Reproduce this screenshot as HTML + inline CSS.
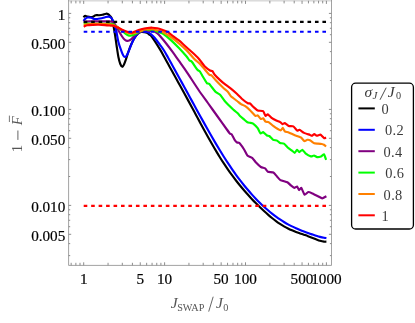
<!DOCTYPE html>
<html><head><meta charset="utf-8"><title>plot</title><style>html,body{margin:0;padding:0;background:#fff;}body{width:415px;height:323px;overflow:hidden;position:relative;font-family:"Liberation Serif",serif;}</style></head><body>
<svg width="415" height="323" viewBox="0 0 415 323" style="position:absolute;left:0;top:0;will-change:transform">
<rect x="0" y="0" width="415" height="323" fill="#ffffff"/>
<rect x="68.20" y="0" width="263.70" height="1.55" fill="#dbdbdb"/>
<path d="M71.17 265.40 v-2.60 M71.17 0.80 v2.60 M75.86 265.40 v-2.60 M75.86 0.80 v2.60 M80.00 265.40 v-2.60 M80.00 0.80 v2.60 M83.70 265.40 v-3.10 M83.70 0.80 v3.10 M108.05 265.40 v-2.60 M108.05 0.80 v2.60 M122.30 265.40 v-2.60 M122.30 0.80 v2.60 M132.41 265.40 v-2.60 M132.41 0.80 v2.60 M140.25 265.40 v-3.10 M140.25 0.80 v3.10 M146.65 265.40 v-2.60 M146.65 0.80 v2.60 M152.07 265.40 v-2.60 M152.07 0.80 v2.60 M156.76 265.40 v-2.60 M156.76 0.80 v2.60 M160.90 265.40 v-2.60 M160.90 0.80 v2.60 M164.60 265.40 v-3.10 M164.60 0.80 v3.10 M188.95 265.40 v-2.60 M188.95 0.80 v2.60 M203.20 265.40 v-2.60 M203.20 0.80 v2.60 M213.31 265.40 v-2.60 M213.31 0.80 v2.60 M221.15 265.40 v-3.10 M221.15 0.80 v3.10 M227.55 265.40 v-2.60 M227.55 0.80 v2.60 M232.97 265.40 v-2.60 M232.97 0.80 v2.60 M237.66 265.40 v-2.60 M237.66 0.80 v2.60 M241.80 265.40 v-2.60 M241.80 0.80 v2.60 M245.50 265.40 v-3.10 M245.50 0.80 v3.10 M269.85 265.40 v-2.60 M269.85 0.80 v2.60 M284.10 265.40 v-2.60 M284.10 0.80 v2.60 M294.21 265.40 v-2.60 M294.21 0.80 v2.60 M302.05 265.40 v-3.10 M302.05 0.80 v3.10 M308.45 265.40 v-2.60 M308.45 0.80 v2.60 M313.87 265.40 v-2.60 M313.87 0.80 v2.60 M318.56 265.40 v-2.60 M318.56 0.80 v2.60 M322.70 265.40 v-2.60 M322.70 0.80 v2.60 M326.40 265.40 v-3.10 M326.40 0.80 v3.10 M68.60 255.60 h1.60 M331.50 255.60 h-1.60 M68.60 243.60 h1.60 M331.50 243.60 h-1.60 M68.60 234.30 h2.60 M331.50 234.30 h-2.60 M68.60 226.70 h1.60 M331.50 226.70 h-1.60 M68.60 220.27 h1.60 M331.50 220.27 h-1.60 M68.60 214.70 h1.60 M331.50 214.70 h-1.60 M68.60 209.79 h1.60 M331.50 209.79 h-1.60 M68.60 205.40 h2.60 M331.50 205.40 h-2.60 M68.60 176.50 h1.60 M331.50 176.50 h-1.60 M68.60 159.60 h1.60 M331.50 159.60 h-1.60 M68.60 147.60 h1.60 M331.50 147.60 h-1.60 M68.60 138.30 h2.60 M331.50 138.30 h-2.60 M68.60 130.70 h1.60 M331.50 130.70 h-1.60 M68.60 124.27 h1.60 M331.50 124.27 h-1.60 M68.60 118.70 h1.60 M331.50 118.70 h-1.60 M68.60 113.79 h1.60 M331.50 113.79 h-1.60 M68.60 109.40 h2.60 M331.50 109.40 h-2.60 M68.60 80.50 h1.60 M331.50 80.50 h-1.60 M68.60 63.60 h1.60 M331.50 63.60 h-1.60 M68.60 51.60 h1.60 M331.50 51.60 h-1.60 M68.60 42.30 h2.60 M331.50 42.30 h-2.60 M68.60 34.70 h1.60 M331.50 34.70 h-1.60 M68.60 28.27 h1.60 M331.50 28.27 h-1.60 M68.60 22.70 h1.60 M331.50 22.70 h-1.60 M68.60 17.79 h1.60 M331.50 17.79 h-1.60 M68.60 13.40 h2.60 M331.50 13.40 h-2.60" stroke="#787878" stroke-width="0.85" fill="none"/>
<path d="M68.60 0.00 V265.40 H331.50 V0.00" fill="none" stroke="#8a8a8a" stroke-width="0.8"/>
<path d="M83.40 17.30 C83.53 17.17 83.90 16.75 84.20 16.50 C84.50 16.25 84.65 15.78 85.20 15.80 C85.75 15.82 86.62 16.40 87.50 16.60 C88.38 16.80 89.58 16.98 90.50 17.00 C91.42 17.02 92.15 17.00 93.00 16.70 C93.85 16.40 94.58 15.45 95.60 15.20 C96.62 14.95 97.95 15.27 99.10 15.20 C100.25 15.13 101.35 15.05 102.50 14.80 C103.65 14.55 105.05 13.80 106.00 13.70 C106.95 13.60 107.55 13.85 108.20 14.20 C108.85 14.55 109.25 14.95 109.90 15.80 C110.55 16.65 111.30 16.47 112.10 19.30 C112.90 22.13 113.97 28.52 114.70 32.80 C115.43 37.08 115.88 40.97 116.50 45.00 C117.12 49.03 117.77 53.83 118.40 57.00 C119.03 60.17 119.65 62.37 120.30 64.00 C120.95 65.63 121.68 66.72 122.30 66.80 C122.92 66.88 123.38 65.77 124.00 64.50 C124.62 63.23 125.25 61.37 126.00 59.20 C126.75 57.03 127.60 54.03 128.50 51.50 C129.40 48.97 130.40 46.25 131.40 44.00 C132.40 41.75 133.42 39.70 134.50 38.00 C135.58 36.30 136.82 34.80 137.90 33.80 C138.98 32.80 139.92 32.28 141.00 32.00 C142.08 31.72 143.40 31.95 144.40 32.10 C145.40 32.25 146.10 32.42 147.00 32.90 C147.90 33.38 148.98 34.33 149.80 35.00 C150.62 35.67 150.20 34.50 151.90 36.90 C153.60 39.30 157.98 46.12 160.00 49.40 C162.02 52.67 162.67 54.14 164.00 56.54 C165.33 58.94 166.67 61.39 168.00 63.81 C169.33 66.23 170.67 68.66 172.00 71.08 C173.33 73.50 174.67 75.91 176.00 78.32 C177.33 80.73 178.67 83.14 180.00 85.55 C181.33 87.97 182.67 90.39 184.00 92.82 C185.33 95.25 186.67 97.69 188.00 100.14 C189.33 102.60 190.67 105.06 192.00 107.53 C193.33 109.99 194.67 112.48 196.00 114.95 C197.33 117.42 198.67 119.91 200.00 122.37 C201.33 124.84 202.67 127.31 204.00 129.74 C205.33 132.18 206.67 134.61 208.00 137.00 C209.33 139.38 210.67 141.75 212.00 144.07 C213.33 146.39 214.67 148.67 216.00 150.90 C217.33 153.14 218.67 155.33 220.00 157.46 C221.33 159.59 222.67 161.68 224.00 163.71 C225.33 165.73 226.67 167.71 228.00 169.63 C229.33 171.55 230.67 173.41 232.00 175.23 C233.33 177.04 234.67 178.80 236.00 180.52 C237.33 182.23 238.67 183.90 240.00 185.53 C241.33 187.15 242.67 188.73 244.00 190.28 C245.33 191.83 246.67 193.34 248.00 194.81 C249.33 196.29 250.67 197.73 252.00 199.15 C253.33 200.56 254.67 201.94 256.00 203.30 C257.33 204.65 258.67 205.97 260.00 207.27 C261.33 208.56 262.67 209.82 264.00 211.05 C265.33 212.28 266.67 213.48 268.00 214.63 C269.33 215.79 270.67 216.91 272.00 217.98 C273.33 219.05 274.67 220.08 276.00 221.06 C277.33 222.04 278.67 222.97 280.00 223.85 C281.33 224.72 282.67 225.55 284.00 226.32 C285.33 227.09 286.67 227.80 288.00 228.47 C289.33 229.14 290.67 229.75 292.00 230.33 C293.33 230.91 294.67 231.44 296.00 231.95 C297.33 232.46 298.67 232.93 300.00 233.40 C301.33 233.87 302.67 234.31 304.00 234.78 C305.33 235.24 306.67 235.69 308.00 236.18 C309.33 236.66 310.67 237.16 312.00 237.67 C313.33 238.18 314.67 238.72 316.00 239.23 C317.33 239.73 318.67 240.29 320.00 240.69 C321.33 241.10 322.93 241.48 324.00 241.64 C325.07 241.80 326.00 241.64 326.40 241.64" stroke="#000000" stroke-width="2.15" fill="none" stroke-linejoin="round" stroke-linecap="butt"/>
<path d="M83.50 21.00 C83.78 20.63 84.48 19.38 85.20 18.80 C85.92 18.22 86.78 17.67 87.80 17.50 C88.82 17.33 90.15 17.53 91.30 17.80 C92.45 18.07 93.55 18.93 94.70 19.10 C95.85 19.27 97.03 18.95 98.20 18.80 C99.37 18.65 100.53 18.47 101.70 18.20 C102.87 17.93 104.05 17.47 105.20 17.20 C106.35 16.93 107.67 16.55 108.60 16.60 C109.53 16.65 110.15 16.98 110.80 17.50 C111.45 18.02 111.97 18.72 112.50 19.70 C113.03 20.68 113.43 21.85 114.00 23.40 C114.57 24.95 115.17 25.92 115.90 29.00 C116.63 32.08 117.45 38.13 118.40 41.90 C119.35 45.67 120.78 49.33 121.60 51.60 C122.42 53.87 122.75 54.60 123.30 55.50 C123.85 56.40 124.37 56.95 124.90 57.00 C125.43 57.05 125.97 56.52 126.50 55.80 C127.03 55.08 127.43 54.25 128.10 52.70 C128.77 51.15 129.60 48.67 130.50 46.50 C131.40 44.33 132.50 41.62 133.50 39.70 C134.50 37.78 135.42 36.27 136.50 35.00 C137.58 33.73 138.80 32.72 140.00 32.10 C141.20 31.48 142.47 31.32 143.70 31.30 C144.93 31.28 146.17 31.50 147.40 32.00 C148.63 32.50 149.87 33.30 151.10 34.30 C152.33 35.30 153.35 36.28 154.80 38.00 C156.25 39.72 158.27 42.51 159.80 44.60 C161.33 46.69 162.63 48.39 164.00 50.54 C165.37 52.69 166.67 55.14 168.00 57.49 C169.33 59.85 170.67 62.26 172.00 64.67 C173.33 67.07 174.67 69.50 176.00 71.93 C177.33 74.35 178.67 76.79 180.00 79.22 C181.33 81.65 182.67 84.08 184.00 86.51 C185.33 88.95 186.67 91.38 188.00 93.81 C189.33 96.24 190.67 98.68 192.00 101.11 C193.33 103.54 194.67 105.97 196.00 108.40 C197.33 110.82 198.67 113.25 200.00 115.66 C201.33 118.08 202.67 120.49 204.00 122.88 C205.33 125.27 206.67 127.66 208.00 130.02 C209.33 132.38 210.67 134.72 212.00 137.03 C213.33 139.35 214.67 141.64 216.00 143.90 C217.33 146.15 218.67 148.38 220.00 150.56 C221.33 152.75 222.67 154.90 224.00 157.01 C225.33 159.11 226.67 161.18 228.00 163.20 C229.33 165.22 230.67 167.20 232.00 169.13 C233.33 171.06 234.67 172.94 236.00 174.78 C237.33 176.61 238.67 178.40 240.00 180.15 C241.33 181.89 242.67 183.58 244.00 185.23 C245.33 186.88 246.67 188.49 248.00 190.05 C249.33 191.61 250.67 193.12 252.00 194.60 C253.33 196.07 254.67 197.50 256.00 198.89 C257.33 200.28 258.67 201.63 260.00 202.94 C261.33 204.24 262.67 205.51 264.00 206.73 C265.33 207.96 266.67 209.15 268.00 210.29 C269.33 211.43 270.67 212.54 272.00 213.60 C273.33 214.66 274.67 215.68 276.00 216.65 C277.33 217.63 278.67 218.57 280.00 219.46 C281.33 220.35 282.67 221.20 284.00 222.01 C285.33 222.82 286.67 223.59 288.00 224.32 C289.33 225.05 290.67 225.74 292.00 226.40 C293.33 227.06 294.67 227.67 296.00 228.27 C297.33 228.86 298.67 229.42 300.00 229.96 C301.33 230.50 302.67 231.01 304.00 231.51 C305.33 232.02 306.67 232.50 308.00 232.97 C309.33 233.45 310.67 233.92 312.00 234.37 C313.33 234.82 314.67 235.28 316.00 235.70 C317.33 236.12 318.67 236.55 320.00 236.90 C321.33 237.25 322.93 237.60 324.00 237.80 C325.07 238.00 326.00 238.03 326.40 238.08" stroke="#0000ff" stroke-width="2.15" fill="none" stroke-linejoin="round" stroke-linecap="butt"/>
<path d="M83.70 21.60 C84.75 21.57 87.28 21.43 90.00 21.40 C92.72 21.37 97.00 21.40 100.00 21.40 C103.00 21.40 106.00 21.33 108.00 21.40 C110.00 21.47 110.92 21.40 112.00 21.80 C113.08 22.20 113.65 22.80 114.50 23.80 C115.35 24.80 116.27 26.40 117.10 27.80 C117.93 29.20 118.67 30.75 119.50 32.20 C120.33 33.65 121.27 35.28 122.10 36.50 C122.93 37.72 123.68 38.77 124.50 39.50 C125.32 40.23 126.15 40.77 127.00 40.90 C127.85 41.03 128.73 40.75 129.60 40.30 C130.47 39.85 131.30 39.08 132.20 38.20 C133.10 37.32 133.92 35.95 135.00 35.00 C136.08 34.05 137.47 33.15 138.70 32.50 C139.93 31.85 140.93 31.42 142.40 31.10 C143.87 30.78 145.63 30.60 147.50 30.60 C149.37 30.60 151.97 30.63 153.60 31.10 C155.23 31.57 156.23 32.58 157.30 33.40 C158.37 34.22 158.52 34.32 160.00 36.00 C161.48 37.68 164.13 40.88 166.20 43.50 C168.27 46.12 170.33 48.88 172.40 51.70 C174.47 54.52 176.53 57.50 178.60 60.40 C180.67 63.30 183.15 66.73 184.80 69.10 C186.45 71.47 186.20 71.12 188.50 74.60 C190.80 78.08 195.37 85.27 198.60 90.00 C200.02 92.08 206.54 101.09 207.90 103.00 C209.26 104.91 215.84 114.09 217.20 116.00 C218.56 117.91 225.56 127.70 226.50 129.00 C227.44 130.30 229.62 133.31 230.00 133.70 C230.38 134.09 231.35 133.82 231.70 134.30 C232.05 134.78 234.40 139.60 234.80 140.20 C235.20 140.80 236.76 142.29 237.10 142.50 C237.44 142.71 238.89 142.49 239.40 143.00 C239.91 143.51 243.51 148.58 244.10 149.50 C244.69 150.42 246.79 154.97 247.40 155.60 C248.01 156.23 251.77 157.59 252.40 158.10 C253.03 158.61 255.38 161.85 256.00 162.50 C256.62 163.15 260.23 166.57 260.90 167.00 C261.57 167.43 264.59 168.06 265.10 168.40 C265.61 168.74 267.29 171.40 267.90 171.70 C268.51 172.00 272.73 172.15 273.40 172.50 C274.07 172.85 276.49 175.94 277.00 176.50 C277.51 177.06 279.64 179.67 280.40 180.10 C281.16 180.53 286.62 181.90 287.40 182.30 C288.18 182.70 290.49 185.09 291.00 185.50 C291.51 185.91 293.85 187.83 294.30 187.90 C294.75 187.97 296.75 186.34 297.10 186.50 C297.45 186.66 298.79 190.00 299.10 190.10 C299.41 190.20 300.90 187.56 301.30 187.90 C301.70 188.24 304.09 194.50 304.60 194.80 C305.11 195.10 307.63 192.10 308.20 192.00 C308.77 191.90 311.68 193.09 312.40 193.40 C313.12 193.71 317.28 195.83 318.00 196.20 C318.72 196.57 321.58 198.40 322.20 198.40 C322.82 198.40 326.09 196.36 326.40 196.20" stroke="#800080" stroke-width="2.15" fill="none" stroke-linejoin="round" stroke-linecap="butt"/>
<path d="M83.70 23.30 C84.75 23.37 87.28 23.62 90.00 23.70 C92.72 23.78 97.00 23.77 100.00 23.80 C103.00 23.83 105.92 23.87 108.00 23.90 C110.08 23.93 111.17 23.62 112.50 24.00 C113.83 24.38 114.82 25.37 116.00 26.20 C117.18 27.03 118.27 27.95 119.60 29.00 C120.93 30.05 122.60 31.47 124.00 32.50 C125.40 33.53 126.83 34.68 128.00 35.20 C129.17 35.72 130.00 35.72 131.00 35.60 C132.00 35.48 132.83 35.02 134.00 34.50 C135.17 33.98 136.67 33.12 138.00 32.50 C139.33 31.88 140.67 31.25 142.00 30.80 C143.33 30.35 144.67 29.97 146.00 29.80 C147.33 29.63 148.50 29.63 150.00 29.80 C151.50 29.97 153.33 30.33 155.00 30.80 C156.67 31.27 158.63 32.08 160.00 32.60 C161.37 33.12 161.38 32.65 163.20 33.90 C165.02 35.15 168.32 37.78 170.90 40.10 C173.48 42.42 176.12 45.10 178.70 47.80 C181.28 50.50 184.60 54.18 186.40 56.30 C188.20 58.42 188.60 59.58 189.50 60.50 C190.40 61.42 190.52 60.30 191.80 61.80 C193.08 63.30 195.83 67.87 197.20 69.50 C198.57 71.13 199.02 70.35 200.00 71.60 C200.43 72.15 202.59 76.15 203.10 77.00 C203.61 77.85 206.55 82.69 207.00 83.20 C207.45 83.71 208.68 83.38 209.30 84.00 C209.92 84.62 214.71 90.91 215.50 91.70 C216.29 92.49 219.43 94.12 220.10 94.80 C220.77 95.48 223.74 99.92 224.70 101.00 C225.66 102.08 232.22 108.58 233.20 109.50 C234.18 110.42 237.50 113.02 238.00 113.50 C238.50 113.98 239.54 115.55 240.00 116.00 C240.46 116.45 243.76 119.25 244.30 119.70 C244.84 120.15 246.98 121.97 247.40 122.20 C247.82 122.43 249.58 122.70 250.00 122.80 C250.42 122.90 252.54 123.20 253.10 123.60 C253.66 124.00 257.16 127.48 257.70 128.20 C258.24 128.92 260.10 133.11 260.50 133.40 C260.90 133.69 262.62 131.95 263.10 132.10 C263.58 132.25 266.55 135.21 267.00 135.50 C267.45 135.79 268.85 135.68 269.30 136.00 C269.75 136.32 272.63 139.46 273.20 139.80 C273.77 140.14 276.60 140.36 277.10 140.60 C277.60 140.84 279.50 142.88 280.00 143.10 C280.50 143.32 283.34 143.28 283.90 143.60 C284.46 143.92 287.14 147.01 287.70 147.50 C288.26 147.99 291.09 149.90 291.60 150.30 C292.11 150.70 294.30 152.94 294.70 152.90 C295.10 152.86 296.66 149.86 297.00 149.80 C297.34 149.74 298.90 152.10 299.30 152.10 C299.70 152.10 301.95 149.71 302.40 149.80 C302.85 149.89 304.88 152.82 305.50 153.30 C306.12 153.78 310.28 156.24 310.90 156.40 C311.52 156.56 313.55 155.45 314.00 155.50 C314.45 155.55 316.59 157.03 317.10 157.10 C317.61 157.17 320.49 156.60 321.00 156.40 C321.51 156.20 323.73 154.15 324.10 154.40 C324.47 154.65 325.95 159.40 326.10 159.80" stroke="#00ff00" stroke-width="2.15" fill="none" stroke-linejoin="round" stroke-linecap="butt"/>
<path d="M83.70 24.80 C84.75 24.67 87.28 24.15 90.00 24.00 C92.72 23.85 97.00 23.87 100.00 23.90 C103.00 23.93 105.92 24.05 108.00 24.20 C110.08 24.35 111.00 24.37 112.50 24.80 C114.00 25.23 115.58 26.07 117.00 26.80 C118.42 27.53 119.67 28.42 121.00 29.20 C122.33 29.98 123.67 30.83 125.00 31.50 C126.33 32.17 127.67 32.88 129.00 33.20 C130.33 33.52 131.67 33.55 133.00 33.40 C134.33 33.25 135.50 32.78 137.00 32.30 C138.50 31.82 140.33 31.00 142.00 30.50 C143.67 30.00 145.33 29.52 147.00 29.30 C148.67 29.08 150.17 29.00 152.00 29.20 C153.83 29.40 156.13 30.00 158.00 30.50 C159.87 31.00 161.05 31.12 163.20 32.20 C165.35 33.28 168.32 35.17 170.90 37.00 C173.48 38.83 176.12 41.00 178.70 43.20 C181.28 45.40 183.83 47.62 186.40 50.20 C188.97 52.78 191.83 56.40 194.10 58.70 C196.37 61.00 198.25 62.23 200.00 64.00 C200.77 64.78 203.92 68.52 204.60 69.30 C205.28 70.08 208.79 74.25 209.30 74.70 C209.81 75.15 211.15 75.10 211.60 75.50 C212.05 75.90 214.65 79.20 215.50 80.10 C216.35 81.00 222.30 86.95 223.20 87.80 C224.10 88.65 227.24 91.08 227.80 91.70 C228.36 92.32 230.22 95.62 230.90 96.30 C231.58 96.98 236.36 100.43 237.10 101.00 C237.84 101.57 240.38 103.70 241.00 104.10 C241.62 104.50 244.94 105.95 245.60 106.40 C246.26 106.85 249.28 109.50 250.00 110.20 C250.72 110.90 254.84 115.52 255.40 115.90 C255.96 116.28 257.30 115.17 257.70 115.40 C258.10 115.63 260.40 118.79 260.80 119.00 C261.20 119.21 262.76 118.01 263.10 118.20 C263.44 118.39 265.10 121.31 265.50 121.60 C265.90 121.89 268.04 121.78 268.60 122.10 C269.16 122.42 272.53 125.39 273.20 125.90 C273.87 126.41 277.24 128.68 277.80 129.00 C278.36 129.32 280.53 130.39 280.90 130.30 C281.27 130.21 282.51 127.73 282.80 127.80 C283.09 127.87 284.37 130.96 284.80 131.30 C285.23 131.64 287.97 132.11 288.70 132.40 C289.43 132.69 293.90 134.83 294.80 135.20 C295.70 135.57 300.30 137.07 301.00 137.50 C301.70 137.93 303.95 140.93 304.40 141.10 C304.85 141.27 306.79 139.87 307.20 139.80 C307.61 139.73 309.48 139.94 310.00 140.20 C310.52 140.46 313.71 143.05 314.30 143.30 C314.89 143.55 317.46 143.55 318.00 143.60 C318.54 143.65 321.26 143.91 321.70 144.00 C322.14 144.09 323.68 144.62 324.00 144.80 C324.32 144.98 325.95 146.38 326.10 146.50" stroke="#ff8000" stroke-width="2.15" fill="none" stroke-linejoin="round" stroke-linecap="butt"/>
<path d="M83.70 26.80 C84.00 26.63 84.88 26.07 85.50 25.80 C86.12 25.53 86.15 25.35 87.40 25.20 C88.65 25.05 91.13 24.97 93.00 24.90 C94.87 24.83 96.60 24.77 98.60 24.80 C100.60 24.83 102.95 24.97 105.00 25.10 C107.05 25.23 109.40 25.47 110.90 25.60 C112.40 25.73 112.97 25.63 114.00 25.90 C115.03 26.17 116.10 26.73 117.10 27.20 C118.10 27.67 118.97 28.18 120.00 28.70 C121.03 29.22 122.22 29.82 123.30 30.30 C124.38 30.78 125.47 31.25 126.50 31.60 C127.53 31.95 128.58 32.22 129.50 32.40 C130.42 32.58 131.08 32.87 132.00 32.70 C132.92 32.53 133.47 31.97 135.00 31.40 C136.53 30.83 139.13 29.87 141.20 29.30 C143.27 28.73 145.55 28.27 147.40 28.00 C149.25 27.73 150.65 27.65 152.30 27.70 C153.95 27.75 155.65 27.95 157.30 28.30 C158.95 28.65 160.55 29.22 162.20 29.80 C163.85 30.38 165.72 31.00 167.20 31.80 C168.68 32.60 169.20 33.20 171.10 34.60 C173.00 36.00 176.32 38.35 178.60 40.20 C180.88 42.05 182.73 43.85 184.80 45.70 C186.87 47.55 188.93 49.40 191.00 51.30 C193.07 53.20 195.70 55.60 197.20 57.10 C198.70 58.60 198.77 58.78 200.00 60.30 C200.54 60.97 203.87 65.45 204.60 66.20 C205.33 66.95 209.43 70.14 210.00 70.50 C210.57 70.86 212.06 70.79 212.40 71.10 C212.74 71.41 214.14 74.04 214.70 74.70 C215.26 75.36 219.31 79.37 220.10 80.10 C220.89 80.83 224.71 84.08 225.50 84.70 C226.29 85.32 230.05 87.92 230.90 88.60 C231.75 89.28 236.30 93.26 237.10 94.00 C237.90 94.74 241.01 98.02 241.80 98.70 C242.59 99.38 247.30 102.95 247.90 103.30 C248.50 103.65 249.56 103.20 250.00 103.50 C250.44 103.80 253.34 106.89 253.90 107.40 C254.46 107.91 257.03 110.22 257.70 110.50 C258.37 110.78 262.53 110.80 263.10 111.20 C263.67 111.60 265.16 115.67 265.50 115.90 C265.84 116.13 267.35 114.15 267.80 114.30 C268.25 114.45 270.98 117.45 271.60 117.90 C272.22 118.35 275.67 120.19 276.30 120.50 C276.93 120.81 279.75 121.84 280.20 122.10 C280.65 122.36 282.16 124.03 282.50 124.10 C282.84 124.17 284.35 122.97 284.80 123.10 C285.25 123.23 288.08 125.66 288.70 125.90 C289.32 126.14 292.68 126.06 293.30 126.40 C293.92 126.74 296.75 130.35 297.20 130.60 C297.65 130.85 298.99 129.63 299.50 129.80 C300.01 129.97 303.33 132.53 304.10 132.90 C304.87 133.27 309.44 134.69 310.00 134.90 C310.56 135.11 311.48 135.86 311.80 135.80 C312.12 135.74 313.94 134.10 314.30 134.10 C314.66 134.10 316.25 135.76 316.70 135.80 C317.15 135.84 319.97 134.55 320.40 134.60 C320.83 134.65 322.22 136.23 322.50 136.50 C322.78 136.77 323.94 138.22 324.20 138.30 C324.46 138.38 325.96 137.65 326.10 137.60" stroke="#ff0000" stroke-width="2.15" fill="none" stroke-linejoin="round" stroke-linecap="butt"/>
<path d="M83.7 21.9 H326.3" stroke="#000" stroke-width="2.1" stroke-dasharray="3.6 3.86" fill="none"/>
<path d="M83.7 31.7 H326.3" stroke="#0000ff" stroke-width="2.1" stroke-dasharray="3.6 3.86" fill="none"/>
<path d="M83.7 205.9 H326.3" stroke="#ff0000" stroke-width="2.1" stroke-dasharray="3.6 3.86" fill="none"/>
<g font-family="Liberation Serif, serif" font-size="15.2" fill="#000" stroke="#000" stroke-width="0.2">
<text x="83.7" y="284.0" text-anchor="middle">1</text>
<text x="140.2" y="284.0" text-anchor="middle">5</text>
<text x="164.6" y="284.0" text-anchor="middle">10</text>
<text x="221.1" y="284.0" text-anchor="middle">50</text>
<text x="245.5" y="284.0" text-anchor="middle">100</text>
<text x="302.0" y="284.0" text-anchor="middle">500</text>
<text x="326.4" y="284.0" text-anchor="middle">1000</text>
<text x="65.3" y="19.7" text-anchor="end">1</text>
<text x="65.3" y="48.6" text-anchor="end">0.500</text>
<text x="65.3" y="115.7" text-anchor="end">0.100</text>
<text x="65.3" y="144.6" text-anchor="end">0.050</text>
<text x="65.3" y="211.7" text-anchor="end">0.010</text>
<text x="65.3" y="240.6" text-anchor="end">0.005</text>
</g>
<g font-family="Liberation Serif, serif" fill="#555555">
<text x="170.8" y="307.7" font-size="15.5" font-style="italic">J</text>
<text x="177.2" y="310.8" font-size="10.2">SWAP</text>
<path d="M208.7 311.6 L213.2 296.7" stroke="#555555" stroke-width="0.9" fill="none"/>
<text x="216.1" y="307.7" font-size="15.5" font-style="italic">J</text>
<text x="223.3" y="310.8" font-size="10.2">0</text>
<g transform="translate(22.1,0) rotate(-90)">
<text x="-152.2" y="0" font-size="14.6">1</text>
<path d="M-139.9 -4.2 H-130.5" stroke="#555555" stroke-width="0.9" fill="none"/>
<text x="-125.2" y="0" font-size="14.6" font-style="italic">F</text>
<path d="M-122 -12.7 H-115.6" stroke="#555555" stroke-width="0.8" fill="none"/>
</g>
</g>
<rect x="351.6" y="83.2" width="61.8" height="145.8" rx="4" ry="4" fill="#fff" stroke="#000" stroke-width="1.3"/>
<g font-family="Liberation Serif, serif" font-size="14.4" fill="#3a3a3a">
<text x="364.6" y="96.8" font-size="15.5" font-style="italic">σ</text>
<text x="372.6" y="99.0" font-size="11" font-style="italic">J</text>
<path d="M380.0 99.8 L386.2 87.7" stroke="#3a3a3a" stroke-width="0.9" fill="none"/>
<text x="387.8" y="96.9" font-size="15.5" font-style="italic">J</text>
<text x="395.9" y="98.8" font-size="10.2">0</text>
<path d="M358.4 108.4 H374.8" stroke="#000000" stroke-width="2.0"/>
<text x="381.6" y="114.0" letter-spacing="0.35">0</text>
<path d="M358.4 129.8 H374.8" stroke="#0000ff" stroke-width="2.0"/>
<text x="385.0" y="135.4" letter-spacing="0.35">0.2</text>
<path d="M358.4 151.2 H374.8" stroke="#800080" stroke-width="2.0"/>
<text x="383.4" y="156.8" letter-spacing="0.35">0.4</text>
<path d="M358.4 172.6 H374.8" stroke="#00ff00" stroke-width="2.0"/>
<text x="385.2" y="178.2" letter-spacing="0.35">0.6</text>
<path d="M358.4 194.0 H374.8" stroke="#ff8000" stroke-width="2.0"/>
<text x="383.6" y="199.6" letter-spacing="0.35">0.8</text>
<path d="M358.4 215.3 H374.8" stroke="#ff0000" stroke-width="2.0"/>
<text x="381.6" y="220.9" letter-spacing="0.35">1</text>
</g>
</svg>
</body></html>
